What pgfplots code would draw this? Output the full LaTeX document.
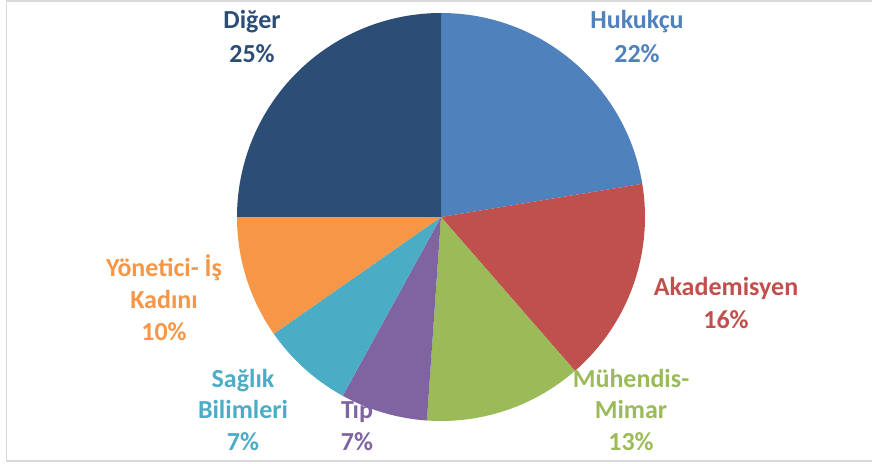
\documentclass[border=0pt]{standalone}
\usepackage{pgfplots}
\usepackage{pgfplotstable}
\pgfplotsset{compat=1.18}
\usepackage{fontspec}
\setmainfont{Carlito}
\definecolor{c0}{HTML}{4F81BD}
\definecolor{c1}{HTML}{C0504D}
\definecolor{c2}{HTML}{9BBB59}
\definecolor{c3}{HTML}{8064A2}
\definecolor{c4}{HTML}{4BACC6}
\definecolor{c5}{HTML}{F79646}
\definecolor{c6}{HTML}{2C4D75}
\pgfplotstableread{
idx value
0 22.4
1 16.2
2 12.5
3 6.9
4 7.3
5 9.7
6 25.0
}\pietable
\pgfplotstablecreatecol[expr accum={\thisrow{value}+\pgfmathaccuma}{0}]{cum}\pietable
\begin{document}
\begin{tikzpicture}[lbl/.style={font=\bfseries\fontsize{26}{32}\selectfont, anchor=base, inner sep=0pt}]
\useasboundingbox (0,0) rectangle (872pt,463pt);
\begin{axis}[
  scale only axis, width=872pt, height=463pt,
  xmin=0, xmax=872, ymin=0, ymax=463,
  hide axis, clip=false,
]
\pgfplotsinvokeforeach{0,...,6}{
  \pgfplotstablegetelem{#1}{cum}\of\pietable
  \pgfmathsetmacro\aend{90-3.6*\pgfplotsretval}
  \pgfplotstablegetelem{#1}{value}\of\pietable
  \pgfmathsetmacro\astart{\aend+3.6*\pgfplotsretval}
  \edef\temp{\noexpand\addplot[draw=none, fill=c#1, domain=\astart:\aend, samples=90]
    ({441+204*cos(x)},{246+204*sin(x)}) -- (axis cs:441,246) -- cycle;}
  \temp
}
% frame
\draw[color=black!15, line width=1.5pt] (axis cs:872,462) -- (axis cs:6.5,462) -- (axis cs:6.5,2) -- (axis cs:872,2);
% labels (x center, baseline y = 463 - image y)
\node[lbl, text=c6] at (axis cs:252,434) {Diğer};
\node[lbl, text=c6] at (axis cs:252,400) {25\%};
\node[lbl, text=c0] at (axis cs:637,434) {Hukukçu};
\node[lbl, text=c0] at (axis cs:637,400) {22\%};
\node[lbl, text=c1] at (axis cs:726,167) {Akademisyen};
\node[lbl, text=c1] at (axis cs:726,135) {16\%};
\node[lbl, text=c2] at (axis cs:631,76) {Mühendis-};
\node[lbl, text=c2] at (axis cs:631,44.5) {Mimar};
\node[lbl, text=c2] at (axis cs:631,13) {13\%};
\node[lbl, text=c3] at (axis cs:357,44.5) {Tıp};
\node[lbl, text=c3] at (axis cs:357,13) {7\%};
\node[lbl, text=c4] at (axis cs:243,76) {Sağlık};
\node[lbl, text=c4] at (axis cs:243,44.5) {Bilimleri};
\node[lbl, text=c4] at (axis cs:243,13) {7\%};
\node[lbl, text=c5] at (axis cs:164,186) {Yönetici- İş};
\node[lbl, text=c5] at (axis cs:164,154) {Kadını};
\node[lbl, text=c5] at (axis cs:164,122) {10\%};
\end{axis}
\end{tikzpicture}
\end{document}
